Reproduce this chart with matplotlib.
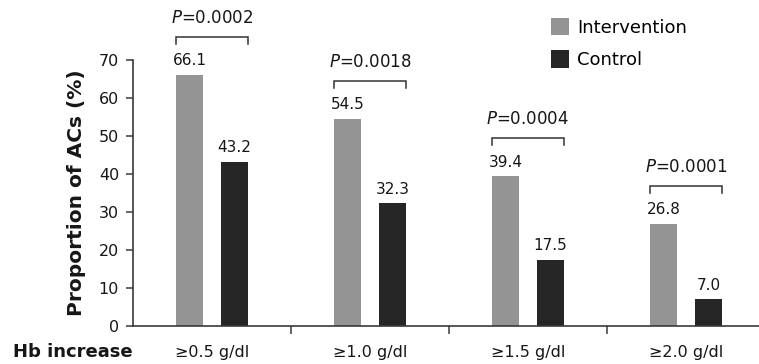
import matplotlib
matplotlib.use("Agg")
import matplotlib.pyplot as plt
from matplotlib.patches import Patch
import numpy as np

# Data
categories = ["\u22650.5 g/dl", "\u22651.0 g/dl", "\u22651.5 g/dl", "\u22652.0 g/dl"]
intervention = [66.1, 54.5, 39.4, 26.8]
control = [43.2, 32.3, 17.5, 7.0]
p_values = ["0.0002", "0.0018", "0.0004", "0.0001"]
series_names = ["Intervention", "Control"]
y_ticks = [0, 10, 20, 30, 40, 50, 60, 70]

plt.rcParams["font.family"] = ["DejaVu Sans"]

W, H = 759, 364
fig = plt.figure(figsize=(W / 100, H / 100), dpi=100)
ax = fig.add_axes([133 / W, (H - 326) / H, (W - 133) / W, (326 - 60) / H])

c_int = "#949494"
c_ctl = "#262626"
axis_col = "#3a3a3a"
txt_col = "#161616"

x = np.arange(len(categories))
bw = 0.171
off = 0.142
ax.bar(x - off, intervention, bw, color=c_int, label=series_names[0])
ax.bar(x + off, control, bw, color=c_ctl, label=series_names[1])

# Value labels above bars
for xi, v in zip(x - off, intervention):
    ax.annotate(f"{v:.1f}", (xi, v), xytext=(0, 7), textcoords="offset points",
                ha="center", va="baseline", fontsize=11, color=txt_col,
                annotation_clip=False)
for xi, v in zip(x + off, control):
    ax.annotate(f"{v:.1f}", (xi, v), xytext=(0, 7), textcoords="offset points",
                ha="center", va="baseline", fontsize=11, color=txt_col,
                annotation_clip=False)

# Significance brackets
for xi, vi, vc, p in zip(x, intervention, control, p_values):
    yb = max(vi, vc) + 10
    x0, x1 = xi - off - bw / 2, xi + off + bw / 2
    ax.plot([x0, x0, x1, x1], [yb - 1.8, yb, yb, yb - 1.8], color="#333333",
            lw=1.1, clip_on=False, solid_joinstyle="miter")
    ax.annotate(f"$\\mathit{{P}}$=" + p, (xi, yb), xytext=(0, 10),
                textcoords="offset points", ha="center", va="baseline",
                fontsize=12, color=txt_col, annotation_clip=False)

ax.set_xlim(-0.5, -0.5 + 626 / 158)
ax.set_ylim(0, 70)
ax.set_yticks(y_ticks)
ax.tick_params(axis="y", direction="out", length=5, width=1.1, colors=axis_col,
               labelsize=11.5, labelcolor=txt_col, pad=5)
ax.set_xticks(x)
ax.set_xticklabels(categories)
ax.tick_params(axis="x", length=0, labelsize=11.5, labelcolor=txt_col, pad=14)
ax.set_xticks(x[:-1] + 0.5, minor=True)
ax.tick_params(axis="x", which="minor", direction="out", length=6, width=1.1,
               colors=axis_col)

for s in ["top", "right"]:
    ax.spines[s].set_visible(False)
for s in ["left", "bottom"]:
    ax.spines[s].set_color(axis_col)
    ax.spines[s].set_linewidth(1.2)

ax.set_ylabel("Proportion of ACs (%)", fontsize=14.5, fontweight="bold",
              color=txt_col, labelpad=9)

fig.text(13 / W, 1 - 352 / H, "Hb increase", fontsize=13, fontweight="bold",
         ha="left", va="center", color=txt_col)

handles = [Patch(facecolor=c_int, edgecolor="none"),
           Patch(facecolor=c_ctl, edgecolor="none")]
fig.legend(handles, series_names, loc="upper left",
           bbox_to_anchor=(551 / W, 1 - 18 / H), bbox_transform=fig.transFigure,
           frameon=False, fontsize=13, handlelength=1.0, handleheight=1.1,
           handletextpad=0.45, labelspacing=0.75, borderpad=0, borderaxespad=0)

fig.savefig("out.png", dpi=100)
